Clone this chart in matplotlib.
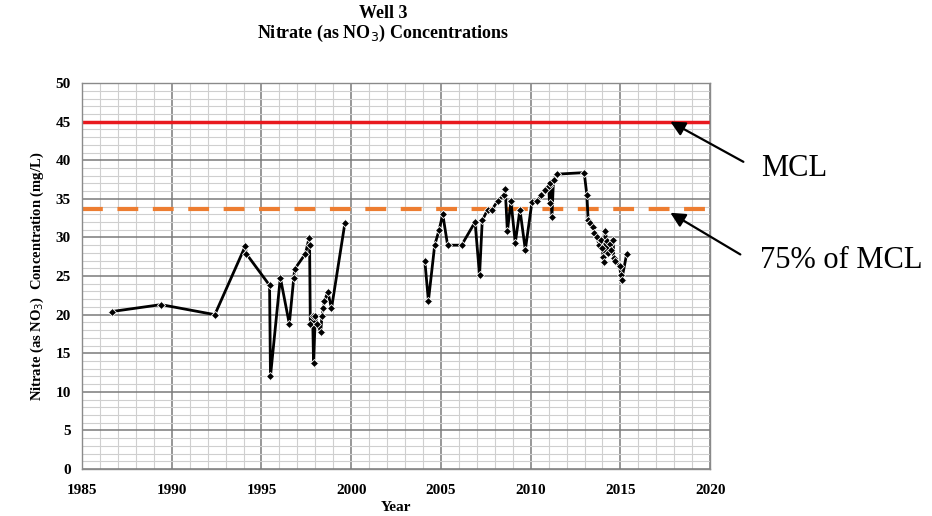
import matplotlib.pyplot as plt
from matplotlib.ticker import MultipleLocator

plt.rcParams["font.family"] = ["Liberation Serif", "DejaVu Serif"]

# sampling dates (decimal year) and nitrate (mg/L), two sampling periods
years_a = [1986.65, 1989.4, 1992.4, 1994.1, 1994.15, 1995.45, 1995.5, 1996.05,
           1996.55, 1996.8, 1996.85, 1997.45, 1997.65, 1997.68, 1997.72, 1997.85,
           1997.9, 1998.0, 1998.1, 1998.3, 1998.37, 1998.45, 1998.5, 1998.7,
           1998.9, 1999.65]
conc_a = [20.4, 21.3, 20.0, 28.9, 27.9, 23.8, 12.0, 24.8,
          18.8, 24.8, 25.9, 27.9, 29.9, 29.0, 18.8, 19.8,
          13.8, 19.8, 18.8, 17.8, 19.8, 20.8, 21.8, 22.9,
          20.8, 31.9]

years_b = [2004.1, 2004.3, 2004.65, 2004.9, 2005.1, 2005.37, 2006.15, 2006.9,
           2007.15, 2007.3, 2007.6, 2007.84, 2008.15, 2008.5, 2008.58, 2008.7,
           2008.9, 2009.14, 2009.4, 2009.7, 2010.07, 2010.35, 2010.6, 2010.8,
           2011.0, 2011.05, 2011.1, 2011.18, 2011.27, 2011.45, 2012.98, 2013.13,
           2013.2, 2013.3, 2013.45, 2013.55, 2013.7, 2013.8, 2013.9, 2013.97,
           2014.05, 2014.1, 2014.15, 2014.25, 2014.3, 2014.4, 2014.5, 2014.6,
           2014.62, 2014.7, 2014.95, 2015.02, 2015.07, 2015.35]
conc_b = [27.0, 21.8, 29.0, 31.0, 33.0, 29.0, 29.0, 32.0,
          25.1, 32.2, 33.6, 33.6, 34.7, 35.5, 36.3, 30.8,
          34.7, 29.3, 33.6, 28.4, 34.6, 34.7, 35.5, 36.1,
          36.7, 34.5, 37.0, 32.6, 37.5, 38.2, 38.4, 35.5,
          32.3, 31.9, 31.4, 30.6, 30.1, 29.0, 29.7, 28.6,
          27.5, 26.8, 30.8, 29.5, 28.0, 29.1, 28.4, 29.7,
          27.4, 27.0, 26.3, 25.2, 24.5, 27.9]

mcl = 45.0
mcl_75 = 0.75 * mcl

fig = plt.figure(figsize=(9.32, 5.16), dpi=100)
ax = fig.add_axes([0.088, 0.091, 0.674, 0.748])

ax.set_xlim(1985, 2020)
ax.set_ylim(0, 50)
ax.xaxis.set_major_locator(MultipleLocator(5))
ax.xaxis.set_minor_locator(MultipleLocator(1))
ax.yaxis.set_major_locator(MultipleLocator(5))
ax.yaxis.set_minor_locator(MultipleLocator(1))
ax.grid(which="major", color="#7a7a7a", linewidth=1.1)
ax.grid(which="minor", color="#cfcfcf", linewidth=0.8)
ax.set_axisbelow(True)
ax.tick_params(which="both", length=0, labelsize=11)
ax.tick_params(axis="x", pad=11)
ax.tick_params(axis="y", pad=8)
for lbl in ax.get_xticklabels() + ax.get_yticklabels():
    lbl.set_fontweight("bold")
for sp in ax.spines.values():
    sp.set_color("#8a8a8a")
    sp.set_linewidth(1.0)

ax.axhline(mcl, color="#e8191e", linewidth=2.5, zorder=2)
ax.axhline(mcl_75, color="#ed7d31", linewidth=3, linestyle=(0, (5, 3.5)), zorder=2)

for xs, ys in [(years_a, conc_a), (years_b, conc_b)]:
    ax.plot(xs, ys, color="black", linewidth=2, marker="D", markersize=4.5,
            markeredgecolor="white", markeredgewidth=0.6, zorder=3)

ax.set_xlabel("Year", fontsize=11, fontweight="bold", labelpad=3)
ax.set_ylabel("Nitrate (as NO$_3$)  Concentration (mg/L)", fontsize=10.5,
              fontweight="bold", labelpad=7)

fig.text(383 / 932, 1 - 13 / 516, "Well 3", ha="center", va="center",
         fontsize=13, fontweight="bold")
fig.text(383 / 932, 1 - 33 / 516, "Nitrate (as NO$_3$) Concentrations",
         ha="center", va="center", fontsize=13, fontweight="bold")

arrow = dict(arrowstyle="-|>", color="black", lw=1.6, mutation_scale=22,
             shrinkA=0, shrinkB=0)
ax.annotate("", xy=(2017.78, mcl), xytext=(2021.85, 39.8),
            arrowprops=arrow, annotation_clip=False)
ax.annotate("", xy=(2017.78, 33.2), xytext=(2021.68, 27.8),
            arrowprops=arrow, annotation_clip=False)
fig.text(761 / 932, 1 - 169 / 516, "MCL", ha="left", va="center", fontsize=22)
fig.text(760 / 932, 1 - 261 / 516, "75% of MCL", ha="left", va="center",
         fontsize=22)

fig.savefig("out.png", dpi=100)
